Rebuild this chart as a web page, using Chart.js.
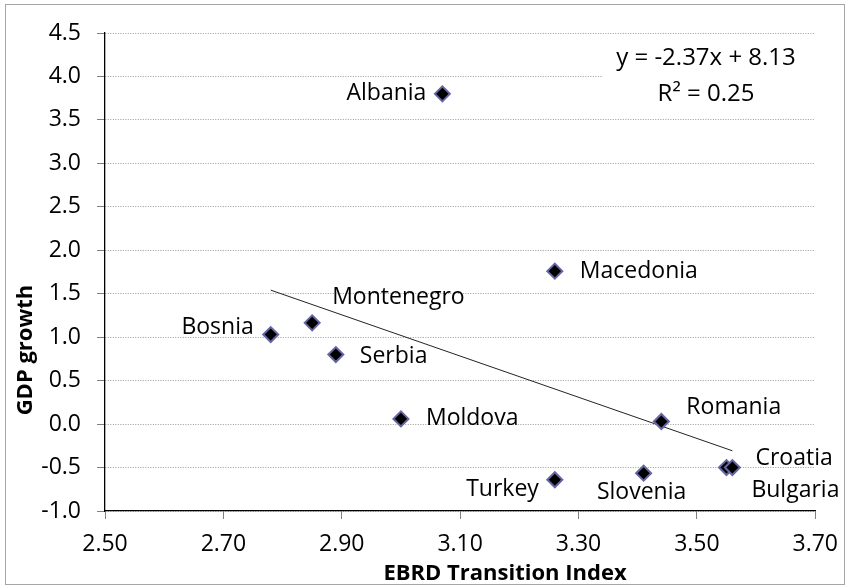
<!DOCTYPE html>
<html lang="en">
<head>
    <meta charset="UTF-8">
    <title>GDP growth vs EBRD Transition Index</title>
    <script src="https://cdn.jsdelivr.net/npm/chart.js@4.4.1/dist/chart.umd.min.js"></script>
    <style>
        html, body { margin: 0; padding: 0; background: #fff; }
        #wrap { width: 850px; height: 588px; }
    </style>
</head>
<body>
<div id="wrap"><canvas id="scatter" width="850" height="588"></canvas></div>
<script>
    // values
    const countries = ['Albania', 'Bosnia', 'Macedonia', 'Montenegro', 'Serbia', 'Moldova',
        'Romania', 'Croatia', 'Bulgaria', 'Slovenia', 'Turkey'];
    const transitionIndex = [3.07, 2.78, 3.26, 2.85, 2.89, 3.00, 3.44, 3.55, 3.56, 3.41, 3.26];
    const gdpGrowth = [3.80, 1.03, 1.76, 1.165, 0.80, 0.06, 0.03, -0.50, -0.50, -0.565, -0.64];

    const xTicks = [2.5, 2.7, 2.9, 3.1, 3.3, 3.5, 3.7];
    const yTicks = [-1, -0.5, 0, 0.5, 1, 1.5, 2, 2.5, 3, 3.5, 4, 4.5];

    const trendSlope = -2.37;
    const trendIntercept = 8.13;
    const trendR2 = 0.25;

    const xTitle = 'EBRD Transition Index';
    const yTitle = 'GDP growth';

    const FONT = "'Open Sans', sans-serif";

    // where each label sits next to its marker: [dx, dy, align]
    const labelPlace = {
        Albania: [-16, 0, 'right'],
        Bosnia: [-17, -7, 'right'],
        Macedonia: [25, 0, 'left'],
        Montenegro: [20, -25, 'left'],
        Serbia: [24, 2, 'left'],
        Moldova: [25, 0, 'left'],
        Romania: [25, -14, 'left'],
        Croatia: [29, -9, 'left'],
        Bulgaria: [19, 23, 'left'],
        Slovenia: [-2, 19, 'center'],
        Turkey: [-16, 10, 'right']
    };

    const points = countries.map((c, i) => ({x: transitionIndex[i], y: gdpGrowth[i]}));
    const xMin = Math.min(...transitionIndex);
    const xMax = Math.max(...transitionIndex);
    const trendPoints = [xMin, xMax].map(x => ({x: x, y: trendSlope * x + trendIntercept}));

    const decor = {
        id: 'decor',
        afterDraw(chart) {
            const ctx = chart.ctx;
            ctx.save();
            ctx.strokeStyle = '#a6a6a6';
            ctx.lineWidth = 1;
            ctx.strokeRect(5.5, 4.5, 839, 580);

            // axis titles (placed off-centre, as in the original)
            ctx.fillStyle = '#000';
            ctx.font = 'bold 22px ' + FONT;
            ctx.textAlign = 'center';
            ctx.textBaseline = 'middle';
            ctx.fillText(xTitle, 505, 574);
            ctx.translate(26, 350);
            ctx.rotate(-Math.PI / 2);
            ctx.fillText(yTitle, 0, 0);
            ctx.restore();
        },
        afterDatasetsDraw(chart) {
            const ctx = chart.ctx;
            const xs = chart.scales.x, ys = chart.scales.y;
            ctx.save();
            ctx.fillStyle = '#000';
            ctx.font = '23px ' + FONT;
            ctx.textBaseline = 'middle';
            countries.forEach((c, i) => {
                const px = xs.getPixelForValue(transitionIndex[i]);
                const py = ys.getPixelForValue(gdpGrowth[i]);
                const p = labelPlace[c];
                ctx.textAlign = p[2];
                ctx.fillText(c, px + p[0], py + p[1]);
            });

            // equation label box
            ctx.fillStyle = '#fff';
            ctx.fillRect(603, 41, chart.chartArea.right - 603, 71);
            ctx.fillStyle = '#000';
            ctx.textAlign = 'center';
            ctx.font = '24px ' + FONT;
            const sign = trendIntercept < 0 ? '-' : '+';
            ctx.fillText('y = ' + trendSlope.toFixed(2) + 'x ' + sign + ' ' + Math.abs(trendIntercept).toFixed(2), 706, 58);
            ctx.fillText('R\u00B2 = ' + trendR2.toFixed(2), 706, 94);
            ctx.restore();
        }
    };

    new Chart(document.getElementById('scatter'), {
        type: 'scatter',
        data: {
            datasets: [{
                label: 'Countries',
                data: points,
                order: 1,
                pointStyle: 'rectRot',
                pointRadius: 7.5,
                pointHoverRadius: 7.5,
                backgroundColor: '#000',
                borderColor: '#6666a3',
                borderWidth: 2
            }, {
                label: 'Trend',
                type: 'line',
                data: trendPoints,
                order: 2,
                borderColor: '#222',
                borderWidth: 1,
                pointRadius: 0,
                fill: false
            }]
        },
        options: {
            responsive: false,
            animation: false,
            events: [],
            layout: {padding: {left: 5, top: 33, right: 34, bottom: 2}},
            plugins: {legend: {display: false}, tooltip: {enabled: false}},
            scales: {
                x: {
                    type: 'linear',
                    min: xTicks[0],
                    max: xTicks[xTicks.length - 1],
                    afterBuildTicks: s => { s.ticks = xTicks.map(v => ({value: v})); },
                    afterFit: s => { s.height = 75; },
                    grid: {drawOnChartArea: false, drawTicks: true, tickLength: 8, tickColor: '#7f7f7f'},
                    border: {display: true, color: '#000', width: 1.3},
                    ticks: {
                        color: '#000',
                        padding: 12,
                        maxRotation: 0,
                        font: {family: FONT, size: 23},
                        callback: v => Number(v).toFixed(2)
                    }
                },
                y: {
                    type: 'linear',
                    min: yTicks[0],
                    max: yTicks[yTicks.length - 1],
                    afterBuildTicks: s => { s.ticks = yTicks.map(v => ({value: v})); },
                    afterFit: s => { s.width = 100; },
                    grid: {color: '#9a9a9a', lineWidth: 1, drawTicks: true, tickLength: 8, tickColor: '#7f7f7f'},
                    border: {display: true, color: '#000', width: 1.3, dash: [1, 1.5]},
                    ticks: {
                        color: '#000',
                        padding: 16,
                        font: {family: FONT, size: 23},
                        callback: v => Number(v).toFixed(1)
                    }
                }
            }
        },
        plugins: [decor]
    });
</script>
</body>
</html>
